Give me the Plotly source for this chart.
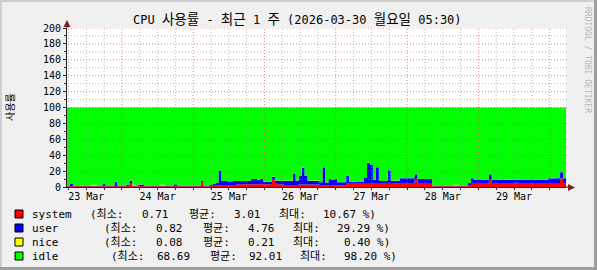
import plotly.graph_objects as go
import pandas as pd

# ---------------- data ----------------
START = "2026-03-23 05:30"
END = "2026-03-30 05:30"

# hourly samples (168 hours), percent
system = [
    0.8, 0.8, 0.8, 0.8, 0.8, 0.8, 0.8, 0.8, 0.8, 0.8, 0.8, 0.8,
    0.8, 0.8, 0.8, 0.8, 0.9, 0.8, 0.8, 0.8, 0.8, 5.0, 0.8, 0.8,
    0.8, 0.8, 0.8, 0.8, 0.8, 0.8, 0.8, 0.8, 0.8, 0.8, 0.8, 0.8,
    0.8, 0.8, 0.8, 0.8, 0.8, 0.8, 0.8, 0.8, 0.8, 6.0, 0.8, 0.8,
    0.9, 1.5, 1.5, 2.0, 2.5, 2.5, 2.5, 2.5, 2.5, 3.5, 3.5, 3.5,
    3.5, 3.5, 3.5, 3.5, 3.5, 3.5, 3.5, 3.5, 3.5, 10.0, 4.0, 3.5,
    3.0, 2.5, 2.5, 2.5, 2.5, 2.5, 3.0, 3.0, 3.0, 3.0, 3.0, 3.0,
    3.0, 2.5, 2.5, 2.0, 2.5, 2.5, 2.5, 2.0, 2.0, 2.0, 4.0, 4.0,
    4.0, 4.0, 4.0, 4.0, 4.0, 4.0, 4.0, 4.0, 4.0, 4.0, 4.0, 4.0,
    4.0, 4.0, 4.0, 4.0, 5.0, 5.0, 5.0, 5.0, 5.0, 9.0, 5.0, 5.0,
    5.0, 5.0, 5.0, 0.8, 0.8, 0.8, 0.8, 0.8, 0.8, 0.8, 0.8, 0.8,
    0.8, 0.8, 0.8, 2.0, 4.0, 4.0, 4.0, 4.0, 4.0, 4.0, 9.0, 4.0,
    4.0, 4.0, 4.0, 4.0, 4.0, 4.0, 4.0, 5.5, 4.0, 4.0, 4.0, 4.0,
    4.0, 4.0, 4.0, 4.0, 4.0, 4.0, 4.0, 4.0, 4.0, 4.0, 10.6, 4.0,
]
user = [
    1.2, 3.0, 1.2, 1.2, 1.2, 1.2, 1.2, 1.2, 1.2, 1.2, 1.2, 1.2,
    3.0, 1.2, 1.2, 1.2, 5.5, 1.2, 1.2, 1.2, 2.5, 3.0, 1.2, 1.2,
    2.5, 2.5, 1.2, 1.2, 1.2, 1.2, 1.2, 1.2, 1.2, 1.2, 1.2, 1.2,
    2.8, 1.2, 1.2, 1.2, 1.2, 1.2, 1.2, 1.2, 1.2, 1.5, 1.2, 1.2,
    1.5, 2.5, 3.5, 18.0, 5.0, 5.0, 4.6, 4.6, 5.0, 4.0, 4.0, 4.0,
    4.0, 4.0, 6.5, 6.5, 6.0, 6.5, 3.5, 3.5, 3.5, 3.0, 4.0, 4.5,
    5.0, 5.0, 5.5, 5.0, 14.5, 5.5, 11.0, 21.0, 11.0, 5.0, 5.0, 4.5,
    4.5, 3.5, 22.5, 3.0, 7.5, 7.0, 7.5, 4.0, 4.0, 4.0, 10.0, 2.5,
    2.5, 2.5, 2.5, 2.5, 8.0, 26.5, 24.0, 5.0, 21.0, 3.5, 3.5, 3.5,
    17.0, 4.0, 4.0, 4.0, 6.0, 6.0, 6.0, 6.0, 6.0, 7.0, 5.0, 5.0,
    5.0, 5.0, 5.0, 1.2, 1.2, 1.2, 1.2, 1.2, 1.2, 1.2, 1.2, 1.2,
    1.2, 1.2, 1.2, 3.0, 7.0, 5.0, 5.0, 5.0, 5.0, 5.0, 7.0, 5.0,
    5.0, 5.0, 5.0, 5.0, 5.0, 5.0, 5.0, 3.5, 5.0, 5.0, 5.0, 5.0,
    5.0, 5.0, 5.0, 5.0, 5.0, 5.0, 7.0, 7.0, 7.0, 7.0, 8.0, 7.0,
]
nice = [
    0.1, 0.1, 0.1, 0.1, 0.1, 0.1, 0.1, 0.1, 0.8, 0.8, 0.1, 0.1,
    0.1, 0.1, 0.1, 0.1, 0.1, 0.1, 0.1, 0.1, 0.1, 0.1, 0.8, 0.1,
    0.1, 0.1, 0.1, 0.1, 0.1, 0.1, 0.1, 0.8, 0.8, 0.1, 0.1, 0.1,
    0.1, 0.1, 0.1, 0.1, 0.1, 0.1, 0.1, 0.1, 0.1, 0.1, 0.1, 0.1,
    0.1, 0.1, 0.1, 0.1, 0.1, 0.1, 0.6, 0.6, 0.1, 0.1, 0.1, 0.1,
    0.1, 0.1, 0.1, 0.1, 0.6, 0.1, 0.1, 0.1, 0.1, 0.1, 0.1, 0.1,
    0.1, 0.6, 0.1, 0.6, 0.1, 0.1, 0.1, 0.1, 0.1, 0.1, 0.1, 0.6,
    0.6, 0.1, 0.1, 0.1, 0.1, 0.6, 0.1, 0.1, 0.1, 0.1, 0.1, 0.1,
    0.5, 0.1, 0.1, 0.1, 0.1, 0.6, 0.1, 0.1, 0.1, 0.1, 0.1, 0.1,
    0.1, 0.1, 0.1, 0.1, 0.1, 0.1, 0.1, 0.1, 0.1, 0.1, 0.1, 0.1,
    0.1, 0.1, 0.1, 0.1, 0.1, 0.1, 0.1, 0.1, 0.1, 0.1, 0.8, 0.8,
    0.1, 0.1, 0.1, 0.1, 0.1, 0.1, 0.1, 0.1, 0.1, 0.1, 0.1, 0.1,
    0.1, 0.5, 0.1, 0.1, 0.5, 0.1, 0.1, 0.1, 0.1, 0.1, 0.1, 0.1,
    0.1, 0.5, 0.1, 0.1, 0.1, 0.1, 0.1, 0.5, 0.1, 0.1, 0.1, 0.1,
]
idle = [round(100 - s - u - n, 2) for s, u, n in zip(system, user, nice)]

day_labels = ["23 Mar", "24 Mar", "25 Mar", "26 Mar", "27 Mar", "28 Mar", "29 Mar"]
day_label_times = ["2026-03-%02d 12:00" % d for d in range(23, 30)]
y_ticks = list(range(0, 201, 20))

legend_names = ["system", "user", "nice", "idle"]
legend_min = ["0.71", "0.82", "0.08", "68.69"]
legend_avg = ["3.01", "4.76", "0.21", "92.01"]
legend_max = ["10.67", "29.29", "0.40", "98.20"]

title_parts = ["CPU ", "사용률", " - ", "최근", " 1 ", "주", " (2026-03-30 ", "월요일", " 05:30)"]
y_title = "사용률"
watermark = "RRDTOOL / TOBI OETIKER"

# ---------------- style ----------------
colors = ["#FF0000", "#0000FF", "#FFFF00", "#00FF00"]
FONT = "DejaVu Sans Mono, Noto Sans CJK KR, monospace"
W, H = 597, 270
L, R, T, B = 67, 31, 28, 83
PW, PH = W - L - R, H - T - B


def pxx(px):
    return (px - L) / PW


def pxy(py):
    return (H - B - py) / PH


def is_korean(s):
    return any("\uac00" <= ch <= "\ud7a3" for ch in s)


times = list(pd.date_range(START, periods=len(system), freq="h")) + [pd.Timestamp(END)]

fig = go.Figure()
for name, vals, col in zip(legend_names, [system, user, nice, idle], colors):
    fig.add_trace(go.Scatter(
        x=times, y=vals + [vals[-1]], name=name, stackgroup="cpu", mode="lines",
        line=dict(width=0, shape="hv", color=col), fillcolor=col, hoverinfo="skip",
    ))

shapes = []
MAJ = "rgba(222,80,80,0.7)"
MIN = "rgba(143,143,143,0.6)"
# horizontal grid (over data, rrdtool-style)
for v in range(10, 201, 10):
    shapes.append(dict(type="line", xref="paper", yref="y", x0=pxx(65), x1=pxx(568), y0=v, y1=v,
                       line=dict(color=MAJ if v % 20 == 0 else MIN, width=1, dash="1px,2px"), layer="above"))
# vertical grid
for t in pd.date_range("2026-03-23 06:00", "2026-03-30 00:00", freq="6h"):
    shapes.append(dict(type="line", xref="x", yref="paper", x0=t, x1=t, y0=pxy(189), y1=1,
                       line=dict(color=MAJ if t.hour == 0 else MIN, width=1, dash="1px,2px"), layer="above"))
# axis extensions and arrows
AX = "#1F1F1F"
AR = "#7F1F1F"
shapes.append(dict(type="line", xref="paper", yref="paper", x0=pxx(67), x1=pxx(67), y0=1, y1=pxy(22),
                   line=dict(color=AX, width=1), layer="above"))
shapes.append(dict(type="line", xref="paper", yref="paper", x0=1, x1=pxx(570), y0=pxy(187), y1=pxy(187),
                   line=dict(color=AX, width=1), layer="above"))
shapes.append(dict(type="path", xref="paper", yref="paper",
                   path="M %f %f L %f %f L %f %f Z" % (pxx(67), pxy(20), pxx(63.5), pxy(27), pxx(70.5), pxy(27)),
                   fillcolor=AR, line=dict(color=AR, width=0), layer="above"))
shapes.append(dict(type="path", xref="paper", yref="paper",
                   path="M %f %f L %f %f L %f %f Z" % (pxx(575), pxy(187.5), pxx(568), pxy(184), pxx(568), pxy(191)),
                   fillcolor=AR, line=dict(color=AR, width=0), layer="above"))
# border shading
shapes += [
    dict(type="rect", xref="paper", yref="paper", x0=pxx(0), x1=pxx(2), y0=pxy(0), y1=pxy(270),
         fillcolor="#CFCFCF", line=dict(width=0), layer="above"),
    dict(type="rect", xref="paper", yref="paper", x0=pxx(0), x1=pxx(597), y0=pxy(0), y1=pxy(2),
         fillcolor="#CFCFCF", line=dict(width=0), layer="above"),
    dict(type="rect", xref="paper", yref="paper", x0=pxx(594), x1=pxx(597), y0=pxy(0), y1=pxy(270),
         fillcolor="#9E9E9E", line=dict(width=0), layer="above"),
    dict(type="rect", xref="paper", yref="paper", x0=pxx(0), x1=pxx(597), y0=pxy(267), y1=pxy(270),
         fillcolor="#9E9E9E", line=dict(width=0), layer="above"),
]

title_html = "".join(
    ('<span style="font-size:13.5px">%s</span>' % p) if is_korean(p) else p for p in title_parts
)

annotations = []
annotations.append(dict(text=title_html, xref="paper", yref="paper", x=pxx(297), y=pxy(19),
                        xanchor="center", yanchor="middle", showarrow=False, borderpad=0,
                        font=dict(family=FONT, size=12, color="#000")))
annotations.append(dict(text=y_title, xref="paper", yref="paper", x=pxx(10), y=pxy(107),
                        xanchor="center", yanchor="middle", showarrow=False, textangle=-90, borderpad=0,
                        font=dict(family=FONT, size=10, color="#000")))
annotations.append(dict(text=watermark, xref="paper", yref="paper", x=pxx(587), y=pxy(60),
                        xanchor="center", yanchor="middle", showarrow=False, textangle=90, borderpad=0,
                        font=dict(family=FONT, size=8, color="#B8B8B8")))

row_y = [214, 228, 242, 256]
row_x0 = [89, 103, 103, 110]
for i in range(4):
    yy = row_y[i]
    x0 = row_x0[i]
    shapes.append(dict(type="rect", xref="paper", yref="paper", x0=pxx(15), x1=pxx(23),
                       y0=pxy(yy - 4), y1=pxy(yy + 4), fillcolor=colors[i],
                       line=dict(color="#000", width=1), layer="above"))
    pieces = [
        (legend_names[i], 31, "left"),
        ("(최소:", x0, "left"),
        (legend_min[i], x0 + 81, "right"),
        ("평균:", x0 + 99, "left"),
        (legend_avg[i], x0 + 173, "right"),
        ("최대:", x0 + 189, "left"),
        (legend_max[i] + " %)", x0 + 288, "right"),
    ]
    for txt, px, anc in pieces:
        annotations.append(dict(text=txt, xref="paper", yref="paper", x=pxx(px), y=pxy(yy),
                                xanchor=anc, yanchor="middle", showarrow=False, borderpad=0,
                                font=dict(family=FONT, size=11, color="#000")))

fig.update_layout(
    width=W, height=H, margin=dict(l=L, r=R, t=T, b=B, pad=0),
    paper_bgcolor="#F0F0F0", plot_bgcolor="#FFFFFF",
    showlegend=False, font=dict(family=FONT, size=10, color="#000"),
    shapes=shapes, annotations=annotations,
    xaxis=dict(type="date", range=[START, END], tickmode="array", tickvals=day_label_times,
               ticktext=day_labels, ticks="", showgrid=False, zeroline=False,
               showline=True, linecolor=AX, linewidth=1, fixedrange=True,
               tickfont=dict(family=FONT, size=10, color="#000"),
               minor=dict(tickmode="linear", tick0="2026-03-23 00:00", dtick=21600000,
                          ticks="outside", ticklen=2, tickcolor=AX, showgrid=False)),
    yaxis=dict(range=[0, 200], tickmode="array", tickvals=y_ticks,
               ticktext=[str(v) for v in y_ticks], ticks="outside", ticklen=3, tickcolor=AX,
               showgrid=False, zeroline=False, showline=True, linecolor=AX, linewidth=1,
               fixedrange=True, tickfont=dict(family=FONT, size=10, color="#000"),
               minor=dict(tickmode="linear", tick0=0, dtick=10, ticks="outside", ticklen=2,
                          tickcolor=AX, showgrid=False)),
)

fig.write_html("out.html")
